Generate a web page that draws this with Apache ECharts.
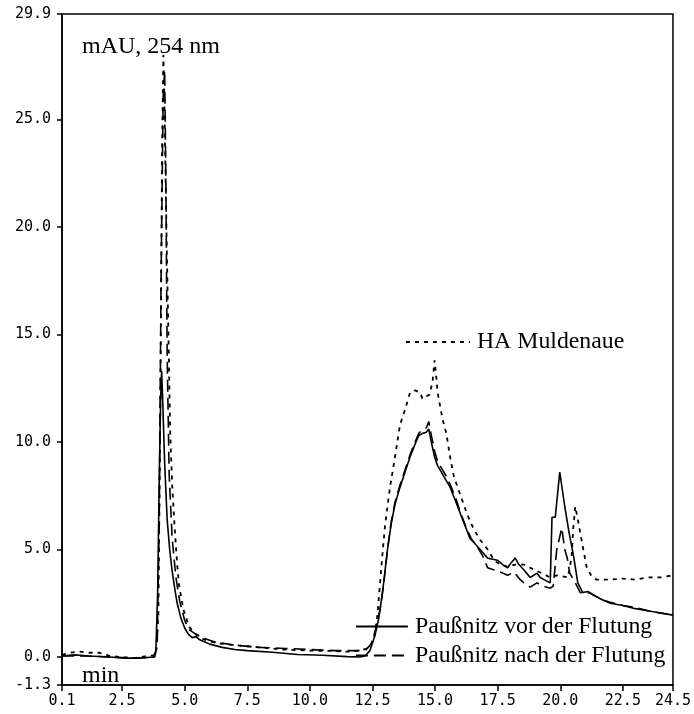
<!DOCTYPE html>
<html>
<head>
<meta charset="utf-8">
<script src="https://cdn.jsdelivr.net/npm/echarts@6/dist/echarts.min.js"></script>
<style>html,body{margin:0;padding:0;background:#fff}#c{width:694px;height:714px}</style>
</head>
<body>
<div id="c"></div>
<script>
// ---- data ----
const xTicks = [0.1, 2.5, 5.0, 7.5, 10.0, 12.5, 15.0, 17.5, 20.0, 22.5, 24.5];
const yTicks = [-1.3, 0.0, 5.0, 10.0, 15.0, 20.0, 25.0, 29.9];
const yAxisTitle = 'mAU, 254 nm';
const xAxisTitle = 'min';
const seriesNames = ['HA Muldenaue', 'Paußnitz vor der Flutung', 'Paußnitz nach der Flutung'];

const vorData = [
 [0.1,0.05],[0.6,0.1],[1.2,0.05],[2.0,0.0],[2.6,-0.05],[3.2,-0.05],[3.75,0.0],[3.85,0.3],[3.92,3.0],[3.98,8.0],
 [4.04,12.0],[4.08,13.3],[4.12,12.0],[4.2,9.0],[4.3,6.4],[4.4,5.0],[4.5,4.0],[4.6,3.2],[4.7,2.5],[4.85,1.8],
 [5.0,1.35],[5.15,1.05],[5.3,0.9],[5.45,0.95],[5.6,0.8],[6.0,0.6],[6.5,0.45],[7.0,0.35],[7.5,0.3],[8.5,0.22],
 [9.5,0.12],[10.5,0.08],[11.5,0.02],[12.0,0.0],[12.2,0.05],[12.4,0.3],[12.6,1.0],[12.75,1.8],[12.9,3.0],[13.1,5.0],
 [13.25,6.2],[13.4,7.1],[13.6,7.9],[13.8,8.6],[14.0,9.3],[14.2,9.9],[14.35,10.3],[14.5,10.4],[14.65,10.45],[14.75,10.6],
 [14.85,10.0],[14.98,9.3],[15.1,8.9],[15.2,8.7],[15.4,8.3],[15.6,7.9],[15.8,7.3],[16.0,6.7],[16.2,6.1],[16.4,5.5],
 [16.57,5.3],[16.8,5.0],[17.1,4.6],[17.3,4.55],[17.5,4.5],[17.7,4.3],[17.9,4.15],[18.05,4.4],[18.2,4.6],[18.35,4.3],
 [18.55,4.05],[18.8,3.7],[19.07,3.9],[19.2,3.7],[19.35,3.6],[19.6,3.45],[19.67,6.5],[19.8,6.5],[19.98,8.6],[20.18,7.0],
 [20.35,5.8],[20.53,4.7],[20.7,3.45],[20.9,3.0],[21.1,3.05],[21.45,2.8],[21.7,2.65],[22.0,2.5],[22.5,2.4],[23.0,2.25],
 [23.5,2.15],[24.0,2.05],[24.5,1.95]
];

const nachData = [
 [0.1,0.05],[1.0,0.05],[2.0,0.0],[3.0,-0.05],[3.8,0.0],[3.9,0.5],[3.98,6.0],[4.06,18.0],[4.14,26.0],[4.2,27.3],
 [4.25,22.0],[4.3,14.0],[4.38,8.5],[4.5,5.5],[4.65,3.7],[4.8,2.6],[5.0,1.7],[5.2,1.25],[5.4,1.1],[5.7,0.9],
 [6.2,0.7],[7.0,0.55],[8.0,0.45],[9.0,0.4],[10.0,0.35],[11.0,0.3],[11.8,0.3],[12.2,0.3],[12.45,0.6],[12.65,1.4],
 [12.8,2.2],[12.95,3.4],[13.1,5.0],[13.25,6.3],[13.4,7.2],[13.6,8.0],[13.8,8.7],[14.0,9.4],[14.2,10.0],[14.35,10.4],
 [14.5,10.6],[14.65,10.65],[14.75,10.95],[14.85,10.3],[15.0,9.5],[15.1,9.1],[15.25,8.8],[15.45,8.4],[15.65,7.9],[15.85,7.3],
 [16.05,6.6],[16.25,6.0],[16.45,5.5],[16.7,5.1],[16.9,4.7],[17.1,4.15],[17.36,4.05],[17.6,3.95],[17.9,3.8],[18.15,3.95],
 [18.4,3.6],[18.6,3.4],[18.8,3.25],[19.07,3.45],[19.3,3.3],[19.6,3.2],[19.72,3.3],[19.86,5.0],[20.06,6.0],[20.18,5.0],
 [20.28,4.6],[20.38,3.9],[20.6,3.45],[20.8,3.0],[20.95,2.95],[21.15,3.0],[21.45,2.8],[21.7,2.65],[22.0,2.55],[22.5,2.4],
 [23.0,2.3],[23.5,2.15],[24.0,2.05],[24.5,1.95]
];

const haData = [
 [0.1,0.1],[0.4,0.2],[0.8,0.25],[1.2,0.2],[1.6,0.2],[2.0,0.05],[2.5,0.0],[3.0,-0.05],[3.5,0.05],[3.85,0.1],
 [3.95,2.0],[4.03,12.0],[4.1,24.0],[4.15,28.0],[4.2,25.0],[4.27,20.0],[4.35,15.0],[4.42,10.5],[4.5,8.0],[4.6,6.0],
 [4.7,4.3],[4.78,3.3],[4.95,2.2],[5.18,1.4],[5.4,1.1],[5.7,0.85],[6.25,0.65],[7.0,0.55],[8.0,0.45],[8.9,0.35],
 [10.0,0.3],[11.0,0.28],[11.5,0.25],[12.0,0.3],[12.3,0.4],[12.5,0.7],[12.6,1.1],[12.7,2.0],[12.8,3.4],[12.9,4.8],
 [13.0,6.1],[13.2,7.9],[13.4,9.3],[13.6,10.8],[13.8,11.5],[14.0,12.3],[14.2,12.4],[14.4,12.3],[14.5,12.0],[14.6,12.1],
 [14.78,12.2],[14.9,12.8],[14.98,13.8],[15.05,13.0],[15.1,12.3],[15.3,11.05],[15.45,10.4],[15.6,9.3],[15.75,8.4],[15.9,7.9],
 [16.17,7.0],[16.4,6.3],[16.57,5.9],[16.8,5.45],[17.1,5.0],[17.36,4.5],[17.6,4.3],[17.9,4.2],[18.2,4.3],[18.55,4.3],
 [18.8,4.15],[19.07,4.0],[19.35,3.85],[19.6,3.7],[19.86,3.8],[20.1,3.75],[20.3,3.7],[20.45,4.6],[20.52,6.0],[20.6,7.0],
 [20.7,6.4],[20.85,5.45],[21.05,4.2],[21.25,3.75],[21.45,3.6],[22.0,3.6],[22.5,3.65],[23.0,3.6],[23.5,3.7],[24.0,3.7],
 [24.5,3.8]
];

// ---- chart ----
const chart = echarts.init(document.getElementById('c'), null, {renderer: 'canvas'});
const serif = 'Liberation Serif';
const mono = 'DejaVu Sans Mono';
const fmt = v => Number(v).toFixed(1);

chart.setOption({
  animation: false,
  backgroundColor: '#fff',
  grid: {left: 62, right: 17, top: 14, bottom: 29, show: true, borderColor: '#000', borderWidth: 1.5, backgroundColor: 'transparent'},
  xAxis: {
    type: 'value', min: 0.1, max: 24.5,
    axisLine: {show: true, onZero: false, lineStyle: {color: '#000', width: 1.5}},
    axisTick: {show: true, customValues: xTicks, length: 6, lineStyle: {color: '#000', width: 1.5}},
    axisLabel: {customValues: xTicks, formatter: fmt, margin: 9, color: '#000', fontFamily: mono, fontSize: 15},
    splitLine: {show: false}
  },
  yAxis: {
    type: 'value', min: -1.3, max: 29.9,
    axisLine: {show: true, onZero: false, lineStyle: {color: '#000', width: 1.5}},
    axisTick: {show: true, customValues: yTicks, length: 5, lineStyle: {color: '#000', width: 1.5}},
    axisLabel: {customValues: yTicks, formatter: fmt, margin: 11, color: '#000', fontFamily: mono, fontSize: 15},
    splitLine: {show: false}
  },
  legend: [
    {
      data: [seriesNames[0]],
      left: 400, top: 325, orient: 'horizontal',
      itemWidth: 64, itemHeight: 24,
      itemStyle: {opacity: 0},
      lineStyle: {width: 1.8},
      textStyle: {fontFamily: serif, fontSize: 23.8, color: '#000', padding: [4, 0, 0, 2]},
      selectedMode: false
    },
    {
      data: [seriesNames[1], seriesNames[2]],
      left: 350, top: 607, orient: 'vertical',
      itemWidth: 52, itemHeight: 24, itemGap: 0,
      itemStyle: {opacity: 0},
      lineStyle: {width: 1.8},
      textStyle: {fontFamily: serif, fontSize: 23.8, color: '#000', lineHeight: 24, padding: [5, 0, 0, 2]},
      selectedMode: false
    }
  ],
  graphic: [
    {type: 'text', left: 82, top: 35, style: {text: yAxisTitle, font: '24px "Liberation Serif"', fill: '#000'}},
    {type: 'text', left: 82, top: 664, style: {text: xAxisTitle, font: '24px "Liberation Serif"', fill: '#000'}}
  ],
  series: [
    {name: seriesNames[0], type: 'line', data: haData, symbol: 'none', lineStyle: {color: '#000', width: 1.8, type: [4, 5]}, itemStyle: {color: '#000'}},
    {name: seriesNames[2], type: 'line', data: nachData, symbol: 'none', lineStyle: {color: '#000', width: 1.6, type: [12, 6]}, itemStyle: {color: '#000'}},
    {name: seriesNames[1], type: 'line', data: vorData, symbol: 'none', lineStyle: {color: '#000', width: 1.6, type: 'solid'}, itemStyle: {color: '#000'}}
  ]
});
</script>
</body>
</html>
